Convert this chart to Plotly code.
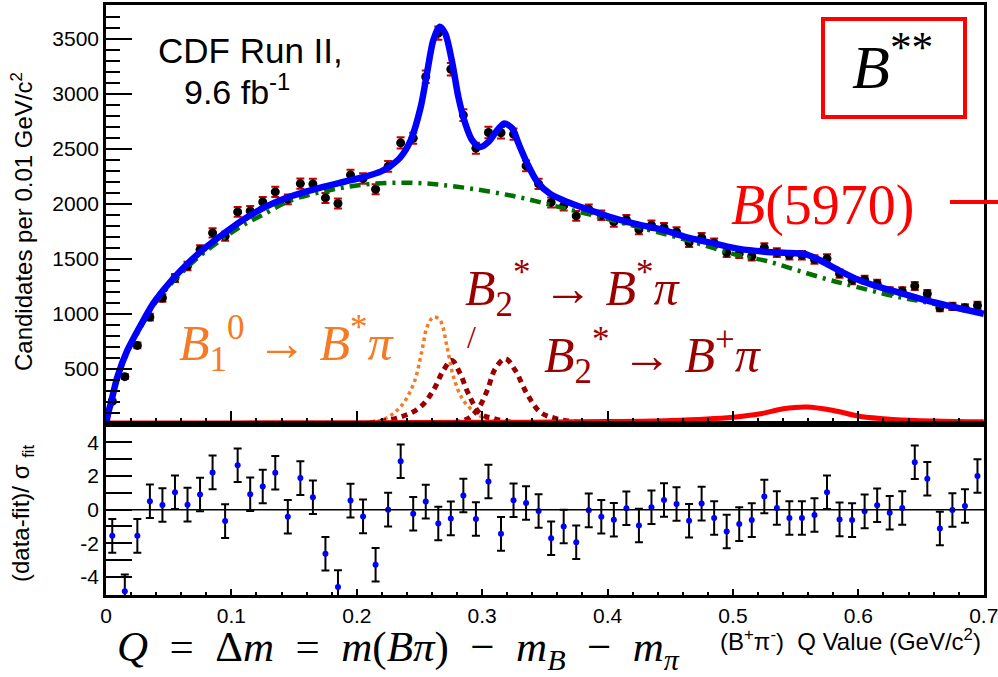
import math
import plotly.graph_objects as go

# ---------------- data ----------------
q_bins = [0.005, 0.015, 0.025, 0.035, 0.045, 0.055, 0.065, 0.075, 0.085, 0.095,
          0.105, 0.115, 0.125, 0.135, 0.145, 0.155, 0.165, 0.175, 0.185, 0.195,
          0.205, 0.215, 0.225, 0.235, 0.245, 0.255, 0.265, 0.275, 0.285, 0.295,
          0.305, 0.315, 0.325, 0.335, 0.345, 0.355, 0.365, 0.375, 0.385, 0.395,
          0.405, 0.415, 0.425, 0.435, 0.445, 0.455, 0.465, 0.475, 0.485, 0.495,
          0.505, 0.515, 0.525, 0.535, 0.545, 0.555, 0.565, 0.575, 0.585, 0.595,
          0.605, 0.615, 0.625, 0.635, 0.645, 0.655, 0.665, 0.675, 0.685, 0.695]

counts = [205, 430, 714, 971, 1144, 1326, 1435, 1584, 1735, 1705,
          1926, 1935, 2017, 2108, 2040, 2183, 2180, 2053, 2002, 2262,
          2229, 2132, 2340, 2553, 2595, 3153, 3550, 3222, 2805, 2505,
          2647, 2645, 2632, 2344, 2180, 2012, 1983, 1890, 1950, 1896,
          1835, 1856, 1765, 1805, 1783, 1744, 1647, 1693, 1644, 1556,
          1547, 1523, 1602, 1556, 1532, 1532, 1493, 1502, 1365, 1305,
          1311, 1274, 1207, 1207, 1253, 1183, 1056, 1068, 1056, 1077]

resid = [-1.56, -4.86, -1.56, 0.50, 0.28, 1.04, 0.30, 0.90, 2.22, -0.68,
         2.64, 0.92, 1.38, 2.20, -0.42, 1.88, 0.74, -2.62, -4.60, 0.54,
         -0.40, -3.28, 0.00, 2.88, -0.24, 0.48, -0.82, -0.52, 0.84, -0.56,
         1.68, -1.44, 0.56, 0.40, -0.08, -1.70, -1.00, -1.94, -0.04, -0.42,
         -0.60, 0.08, -0.94, 0.14, 0.58, 0.34, -0.66, 0.36, -0.50, -1.30,
         -0.86, -0.62, 0.78, 0.10, -0.50, -0.50, -0.32, 1.04, -0.58, -0.62,
         -0.10, 0.26, -0.18, 0.10, 2.82, 1.84, -1.12, -0.02, 0.22, 2.00]
resid_err = [1.0] * 70

fit_q = [0.000, 0.002, 0.004, 0.009, 0.017, 0.028, 0.038, 0.052, 0.065, 0.078,
         0.094, 0.110, 0.126, 0.142, 0.158, 0.174, 0.190, 0.206, 0.219, 0.227,
         0.235, 0.243, 0.251, 0.256, 0.261, 0.266, 0.2705, 0.276, 0.281, 0.2865,
         0.292, 0.2985, 0.305, 0.312, 0.3176, 0.324, 0.329, 0.336, 0.344, 0.354,
         0.368, 0.384, 0.405, 0.425, 0.445, 0.465, 0.485, 0.505, 0.525, 0.545,
         0.557, 0.567, 0.577, 0.587, 0.600, 0.615, 0.635, 0.655, 0.675, 0.700]
fit_v = [0, 110, 195, 425, 668, 905, 1100, 1300, 1455, 1590,
         1730, 1860, 1965, 2045, 2105, 2155, 2200, 2245, 2292, 2345,
         2425, 2577, 2880, 3186, 3486, 3607, 3547, 3289, 2971, 2729,
         2577, 2516, 2562, 2668, 2729, 2684, 2547, 2365, 2198, 2092,
         2016, 1950, 1870, 1810, 1760, 1690, 1640, 1590, 1565, 1552,
         1545, 1500, 1440, 1380, 1310, 1250, 1185, 1120, 1065, 1000]

bkg_q = [0.000, 0.004, 0.009, 0.017, 0.028, 0.038, 0.052, 0.065, 0.078, 0.094,
         0.110, 0.126, 0.146, 0.179, 0.211, 0.245, 0.280, 0.325, 0.365, 0.404,
         0.442, 0.465, 0.505, 0.527, 0.550, 0.575, 0.590, 0.628, 0.650, 0.700]
bkg_v = [0, 185, 410, 650, 885, 1080, 1275, 1425, 1555, 1690,
         1810, 1905, 2025, 2125, 2180, 2190, 2155, 2070, 1960, 1850,
         1735, 1665, 1530, 1480, 1400, 1315, 1270, 1162, 1115, 995]

b1_q = [0.200, 0.220, 0.2346, 0.2453, 0.252, 0.256, 0.2612, 0.2665, 0.272, 0.2772, 0.285, 0.2958, 0.305, 0.320]
b1_v = [10, 35, 153, 365, 668, 880, 971, 941, 698, 425, 214, 93, 40, 10]

b2s_q = [0.210, 0.2346, 0.2506, 0.261, 0.269, 0.2758, 0.2825, 0.289, 0.2985, 0.309, 0.325]
b2s_v = [10, 62, 153, 305, 486, 577, 456, 275, 93, 50, 12]

b2p_q = [0.260, 0.285, 0.2958, 0.304, 0.3104, 0.3184, 0.3264, 0.3357, 0.3464, 0.3597, 0.380]
b2p_v = [8, 30, 123, 305, 502, 593, 486, 275, 107, 47, 12]

b5970_q = [0.000, 0.100, 0.200, 0.300, 0.400, 0.450, 0.500, 0.522, 0.540, 0.559, 0.580, 0.602, 0.628, 0.660, 0.700]
b5970_v = [8, 10, 12, 15, 22, 32, 62, 93, 138, 155, 123, 68, 42, 28, 20]

cyan_q = [0.000, 0.200, 0.300, 0.400, 0.500, 0.600, 0.700]
cyan_v = [3, 8, 10, 9, 8, 6, 4]

x_tick_vals = [0, 0.1, 0.2, 0.3, 0.4, 0.5, 0.6, 0.7]
x_tick_text = ["0", "0.1", "0.2", "0.3", "0.4", "0.5", "0.6", "0.7"]
top_y_ticks = [500, 1000, 1500, 2000, 2500, 3000, 3500]
res_y_ticks = [-4, -3, -2, -1, 0, 1, 2, 3, 4]
res_y_text = ["-4", " ", "-2", " ", "0", " ", "2", " ", "4"]

# ---------------- geometry helpers (pixel -> paper) ----------------
W, H = 998, 677
ML, MR, MT, MB = 106, 14, 5, 82
PW, PH = W - ML - MR, H - MT - MB
def px(x):
    return (x - ML) / PW
def py(y):
    return (H - MB - y) / PH
split = py(424)

DARKRED = "#9b0000"
ORANGE = "#f57a23"
GREEN = "#007000"
SANS = "Liberation Sans, Arial, Helvetica, sans-serif"
SERIF = "Liberation Serif, Times New Roman, serif"

fig = go.Figure()

# data points with Poisson errors
fig.add_trace(go.Scatter(
    x=q_bins, y=counts, mode="markers",
    marker=dict(color="black", size=9),
    error_y=dict(type="data", array=[math.sqrt(c) for c in counts], color="#cc0000", thickness=2, width=4),
    xaxis="x", yaxis="y", showlegend=False))

fig.add_trace(go.Scatter(x=b1_q, y=b1_v, mode="lines", line=dict(color=ORANGE, width=3.5, dash="dot", shape="spline"),
                         xaxis="x", yaxis="y", showlegend=False))
fig.add_trace(go.Scatter(x=b2s_q, y=b2s_v, mode="lines", line=dict(color=DARKRED, width=5, dash="6px,5px", shape="spline"),
                         xaxis="x", yaxis="y", showlegend=False))
fig.add_trace(go.Scatter(x=b2p_q, y=b2p_v, mode="lines", line=dict(color=DARKRED, width=5, dash="6px,5px", shape="spline"),
                         xaxis="x", yaxis="y", showlegend=False))
fig.add_trace(go.Scatter(x=cyan_q, y=cyan_v, mode="lines", line=dict(color="#00cccc", width=3, dash="dash", shape="spline"),
                         xaxis="x", yaxis="y", showlegend=False))
fig.add_trace(go.Scatter(x=b5970_q, y=b5970_v, mode="lines", line=dict(color="#ff0000", width=5, shape="spline"),
                         xaxis="x", yaxis="y", showlegend=False))
fig.add_trace(go.Scatter(x=bkg_q, y=bkg_v, mode="lines", line=dict(color=GREEN, width=4.5, dash="11px,6px,3px,6px", shape="spline"),
                         xaxis="x", yaxis="y", showlegend=False))
fig.add_trace(go.Scatter(x=fit_q, y=fit_v, mode="lines", line=dict(color="#0000ff", width=6.5, shape="spline", smoothing=0.8),
                         xaxis="x", yaxis="y", showlegend=False))

# residuals
fig.add_trace(go.Scatter(
    x=q_bins, y=resid, mode="markers",
    marker=dict(color="#0000ff", size=6),
    error_y=dict(type="data", array=resid_err, color="black", thickness=2, width=4),
    xaxis="x2", yaxis="y2", showlegend=False))

axis_common = dict(showline=True, linecolor="black", linewidth=2.5, mirror=True,
                   ticks="inside", tickcolor="black", showgrid=False, zeroline=False, automargin=False)

XMAX = 0.7002
fig.update_layout(
    width=W, height=H, margin=dict(l=ML, r=MR, t=MT, b=MB, autoexpand=False),
    plot_bgcolor="white", paper_bgcolor="white",
    font=dict(family=SANS, size=21, color="black"),
    xaxis=dict(domain=[0, 1], range=[0, XMAX], anchor="y", showticklabels=False,
               tickvals=x_tick_vals, ticklen=13, tickwidth=2,
               minor=dict(ticks="inside", tick0=0, dtick=0.02, ticklen=6, tickwidth=1.5, tickcolor="black"),
               **axis_common),
    yaxis=dict(domain=[split, 1], range=[0, 3805], anchor="x",
               tickvals=top_y_ticks, ticklen=26, tickwidth=2,
               minor=dict(ticks="inside", tick0=0, dtick=100, ticklen=14, tickwidth=1.5, tickcolor="black"),
               tickfont=dict(size=21), **axis_common),
    xaxis2=dict(domain=[0, 1], range=[0, XMAX], anchor="y2",
                tickvals=x_tick_vals, ticktext=x_tick_text, ticklen=6, tickwidth=2,
                tickfont=dict(size=21), ticklabeloverflow="allow",
                minor=dict(ticks="inside", tick0=0, dtick=0.02, ticklen=3, tickwidth=1.5, tickcolor="black"),
                **axis_common),
    yaxis2=dict(domain=[0, split], range=[-5.08, 5.1], anchor="x2",
                tickvals=res_y_ticks, ticktext=res_y_text,
                ticklen=26, tickwidth=2, tickfont=dict(size=21), **axis_common),
)

# zero line in residual panel
fig.add_shape(type="line", xref="x2", yref="y2", x0=0, x1=XMAX, y0=0, y1=0,
              line=dict(color="black", width=1.5))

# red box around B**
fig.add_shape(type="rect", xref="paper", yref="paper",
              x0=px(823), x1=px(965), y0=py(117), y1=py(19),
              line=dict(color="#ff0000", width=4))
# red line next to B(5970)
fig.add_shape(type="line", xref="paper", yref="paper",
              x0=px(950), x1=px(998), y0=py(202), y1=py(202),
              line=dict(color="#ff0000", width=4))

def ann(x, y, text, size, color="black", family=SANS, xanchor="center", yanchor="middle", angle=0):
    fig.add_annotation(x=px(x), y=py(y), xref="paper", yref="paper", text=text, showarrow=False,
                       xanchor=xanchor, yanchor=yanchor, textangle=angle,
                       font=dict(size=size, color=color, family=family))

SP = "&nbsp;&nbsp;"
ann(250, 50, "CDF Run II,", 35)
ann(237, 90, "9.6 fb<sup>-1</sup>", 34)
ann(892, 62, "<i>B</i><sup>**</sup>", 62, family=SERIF)
ann(823, 206, "<i>B</i>(5970)", 56, color="#ff0000", family=SERIF)
ann(287, 343, "<i>B</i><sub>1</sub><sup>0</sup> → <i>B</i><sup>*</sup><i>π</i>", 50, color=ORANGE, family=SERIF)
ann(573, 288, "<i>B</i><sub>2</sub><sup>*</sup> → <i>B</i><sup>*</sup><i>π</i>", 50, color=DARKRED, family=SERIF)
ann(471, 337, "/", 32, color=DARKRED, family=SERIF)
ann(653, 355, "<i>B</i><sub>2</sub><sup>*</sup> → <i>B</i><sup>+</sup><i>π</i>", 50, color=DARKRED, family=SERIF)
ann(398, 650,
    "<i>Q</i>" + SP + "=" + SP + "Δ<i>m</i>" + SP + "=" + SP + "<i>m</i>(<i>Bπ</i>)" + SP + "−" + SP +
    "<i>m</i><sub><i>B</i></sub>" + SP + "−" + SP + "<i>m</i><sub><i>π</i></sub>",
    43, family=SERIF)
ann(983, 640, "(B<sup>+</sup>π<sup>-</sup>)  Q Value (GeV/c<sup>2</sup>)", 24, xanchor="right")
ann(22, 222, "Candidates per 0.01 GeV/c<sup>2</sup>", 24, angle=-90)
ann(22, 513, "(data-fit)/ σ <sub>fit</sub>", 24, angle=-90)

fig.write_html("out.html")
